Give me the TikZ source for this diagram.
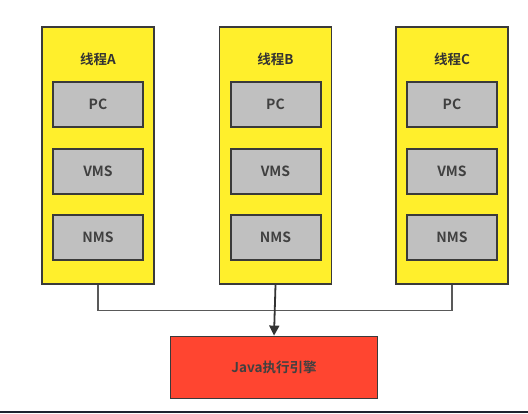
\documentclass[tikz,border=0pt]{standalone}
\usepackage{fontspec}
\newfontfamily\cjk{Noto Sans CJK SC}[BoldFont={Noto Sans CJK SC Bold}]
\usetikzlibrary{arrows.meta}
\definecolor{thr}{HTML}{FFEF2C}
\definecolor{grayb}{HTML}{C0C0C0}
\definecolor{eng}{HTML}{FF4530}
\definecolor{edge}{HTML}{3A3A3A}
\definecolor{txt}{HTML}{404040}
\begin{document}
\begin{tikzpicture}[x=1pt,y=-1pt,
  thread/.style={draw=edge,line width=1.8pt,fill=thr,minimum width=112pt,minimum height=257pt,inner sep=0pt},
  reg/.style={draw=edge,line width=2pt,fill=grayb,minimum width=90pt,minimum height=45pt,inner sep=0pt,
    font=\cjk\bfseries\fontsize{14}{14}\selectfont,text=txt},
  ttl/.style={font=\cjk\bfseries\fontsize{13.5}{14}\selectfont,text=black!80},
  engine/.style={draw=edge,line width=1.8pt,fill=eng,minimum width=207pt,minimum height=62pt,inner sep=0pt,
    font=\cjk\bfseries\fontsize{13.5}{14}\selectfont,text=black!75},
  link/.style={draw=black!65,line width=1.6pt},
  arr/.style={draw=black!80,line width=1.8pt,-{Triangle[length=10pt,width=10pt]}}]
\useasboundingbox (0,0) rectangle (528,413);
\fill[white] (0,0) rectangle (528,413);
\fill[fill={rgb,255:red,30;green,36;blue,48}] (0,410.5) rectangle (528,413);
% threads
\node[thread] (A) at (98,155.5) {};
\node[thread] (B) at (275.5,155.5) {};
\node[thread] (C) at (452,155.5) {};
\foreach \t/\x/\l in {A/98/A,B/275.5/B,C/452/C}{
  \node[ttl] (\t title) at (\x,59) {线程\l};
  \node[reg] (\t pc) at (\x,104.5) {PC};
  \node[reg] (\t vms) at (\x,171) {VMS};
  \node[reg] (\t nms) at (\x,237) {NMS};
}
\node[engine] (E) at (274,367.5) {Java执行引擎};
\coordinate (J) at (98,310.5);
\draw[link] (A.south) -- (J) -| (C.south);
\draw[arr] (B.south) -- (E.north);
\end{tikzpicture}
\end{document}
